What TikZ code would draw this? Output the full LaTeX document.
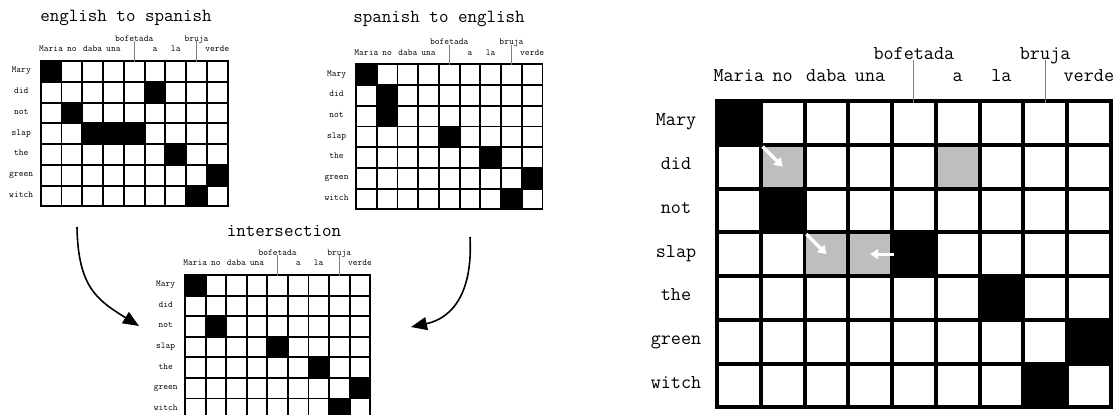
\documentclass[tikz,border=0pt]{standalone}
\usetikzlibrary{positioning,arrows.meta}
\definecolor{cellgray}{RGB}{190,190,190}

\begin{document}
\begin{tikzpicture}[x=1pt, y=-1pt,
  every node/.style={font=\ttfamily\fontsize{19.6}{22}\selectfont, inner sep=0pt},
  cell/.style={fill=white, minimum size=39.75pt},
  word/.style={anchor=base},
  tick/.style={draw=gray, line width=0.8pt},
  title/.style={font=\ttfamily\fontsize{18.5}{21}\selectfont, anchor=base},
  flow/.style={line width=1.6pt, -{Triangle[length=16pt,width=13pt]}},
  move/.style={white, line width=3.2pt, -{Triangle[length=8pt,width=10pt]}}]
  \useasboundingbox (0,0) rectangle (1114,415);

  % titles
  \node[title] (es-title) at (126,21.5) {english to spanish};
  \node[title] (se-title) at (439,22.7) {spanish to english};
  \node[title] (int-title) at (284,236.7) {intersection};

  % the four alignment grids
  \foreach \m/\ox/\oy/\f/\dark in {
      es/40.7/61/0.4749/{0/0,1/5,2/1,3/2,3/3,3/4,4/6,5/8,6/7},
      se/356/64.3/0.4737/{0/0,1/1,2/1,3/4,4/6,5/8,6/7},
      int/185/275/0.4703/{0/0,2/1,3/4,4/6,5/8,6/7},
      big/717/101/1/{0/0,2/1,3/4,4/6,5/8,6/7}} {
    \begin{scope}[shift={(\ox,\oy)}, scale=\f, transform shape]
      \fill (-2,-2) rectangle (395.75,308.25);
      \foreach \r in {0,...,6}
        \foreach \c in {0,...,8}
          \node[cell] (\m-\r-\c) at ({(\c+0.5)*43.75},{(\r+0.5)*43.75}) {};
      \foreach \r/\c in \dark
        \fill ({\c*43.75-2},{\r*43.75-2}) rectangle ++(47.75,47.75);
      \foreach \w/\c/\y in {Maria/0/-19.5, no/1/-19.5, daba/2/-19.5, una/3/-19.5,
          bofetada/4/-41.5, a/5/-19.5, la/6/-19.5, bruja/7/-41.5, verde/8/-19.5}
        \node[word] (\m-\w) at ({(\c+0.5)*43.75},\y) {\w};
      \foreach \w [count=\r from 0] in {Mary,did,not,slap,the,green,witch}
        \node[word] (\m-\w) at (-41,{(\r+0.5)*43.75+3}) {\w};
      \draw[tick] (\m-bofetada.base) -- (\m-0-4.north);
      \draw[tick] (\m-bruja.base) -- (\m-0-7.north);
    \end{scope}
  }

  % growing the alignment
  \foreach \r/\c in {1/1,1/5,3/2,3/3}
    \fill[cellgray] (big-\r-\c.north west) rectangle (big-\r-\c.south east);
  \draw[move] (big-1-1.north west) -- (big-1-1.center);
  \draw[move] (big-3-2.north west) -- (big-3-2.center);
  \draw[move] (big-3-4.west) -- (big-3-3.center);

  % both directions into the intersection
  \coordinate (es-drop) at (77,227);
  \coordinate (int-in-left) at (139,326);
  \coordinate (se-drop) at (470,237);
  \coordinate (int-in-right) at (411,327);
  \draw[flow] (es-drop) .. controls +(1,60) and +(-42,-26) .. (int-in-left);
  \draw[flow] (se-drop) .. controls +(3,55) and +(42,-9) .. (int-in-right);
\end{tikzpicture}
\end{document}
